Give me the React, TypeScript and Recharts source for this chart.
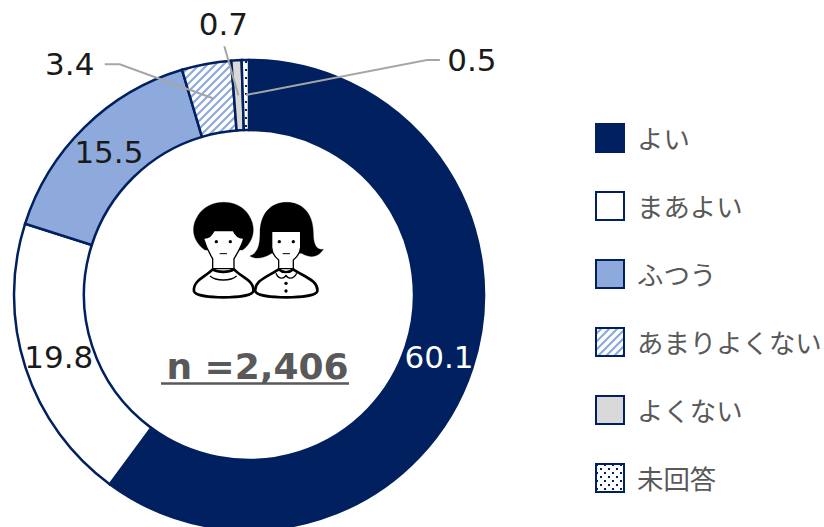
import { PieChart, Pie, Cell, Legend } from "recharts";

const categories = ["よい", "まあよい", "ふつう", "あまりよくない", "よくない", "未回答"];
const values = [60.1, 19.8, 15.5, 3.4, 0.7, 0.5];
const fills = ["#002060", "#ffffff", "#8EA9DB", "url(#hatch)", "#D9D9D9", "url(#dots)"];
const sampleLabel = "n =2,406";

const data = categories.map((name, i) => ({ name, value: values[i], fill: fills[i] }));

const FONT = '"DejaVu Sans", "Noto Sans CJK JP", sans-serif';
const JP_FONT = '"Noto Sans CJK JP", "DejaVu Sans", sans-serif';
const NAVY = "#002060";
const CX = 249;
const CY = 295;
const OUTER = 235;
const INNER = 165;

// small slices get a leader line, points are offsets from the slice centre
const callouts: Record<string, { points: number[][]; text: number[] }> = {
  あまりよくない: { points: [[-93, -34], [-108, -34]], text: [-143, -34] },
  よくない: { points: [[-14, -49]], text: [-15, -71] },
  未回答: { points: [[181, -35], [194, -35]], text: [226, -35] },
};

function renderLabel(props: any) {
  const { midAngle, value, index, name } = props;
  const rad = (-midAngle * Math.PI) / 180;
  const r = (INNER + OUTER) / 2;
  const x = CX + r * Math.cos(rad);
  const y = CY + r * Math.sin(rad);
  const callout = callouts[name];
  if (callout) {
    const pts = [[x, y], ...callout.points.map(([dx, dy]) => [x + dx, y + dy])];
    return (
      <g key={index}>
        <polyline points={pts.map((p) => p.join(",")).join(" ")} fill="none" stroke="#A6A6A6" strokeWidth={2} />
        <text x={x + callout.text[0]} y={y + callout.text[1]} textAnchor="middle" dominantBaseline="central" fontSize={31} fontFamily={FONT} fill="#1a1a1a">
          {value.toFixed(1)}
        </text>
      </g>
    );
  }
  return (
    <text key={index} x={x} y={y} textAnchor="middle" dominantBaseline="central" fontSize={31} fontFamily={FONT} fill={index === 0 ? "#ffffff" : "#1a1a1a"}>
      {value.toFixed(1)}
    </text>
  );
}

function LegendList() {
  return (
    <div style={{ display: "flex", flexDirection: "column", gap: 38 }}>
      {data.map((d) => (
        <div key={d.name} style={{ display: "flex", alignItems: "center", height: 30 }}>
          <svg width={30} height={30} style={{ display: "block" }}>
            <rect x={1} y={1} width={28} height={28} fill={d.fill} stroke={NAVY} strokeWidth={2} />
          </svg>
          <span style={{ marginLeft: 12, fontFamily: JP_FONT, fontSize: 26.4, color: "#595959", whiteSpace: "nowrap", lineHeight: "30px" }}>
            {d.name}
          </span>
        </div>
      ))}
    </div>
  );
}

// the two people in the middle, drawn at 3x and scaled down
function People() {
  return (
    <g transform="translate(150,190) scale(0.3333)" stroke="#000" strokeLinejoin="round">
      <path d="M165,180 C128,155 120,112 145,75 C178,24 265,24 296,75 C320,112 312,155 278,180 Z" fill="#000" />
      <path d="M160,144 C176,146 186,135 192,122 L250,122 C256,135 266,146 282,144 C274,172 262,190 252,206 L252,236 L188,236 L188,206 C178,190 168,172 160,144 Z" fill="#fff" strokeWidth={4} />
      <path d="M132,304 C128,272 165,262 188,238 C205,248 235,248 252,238 C275,262 314,272 310,304 C302,328 140,328 132,304 Z" fill="#fff" strokeWidth={8} />
      <path d="M180,258 C198,274 242,274 260,258" fill="none" strokeWidth={4} />
      <circle cx={199} cy={155} r={5} fill="#000" strokeWidth={0} />
      <circle cx={241} cy={155} r={5} fill="#000" strokeWidth={0} />
      <path d="M209,191 L231,191" strokeWidth={3} />

      <path d="M300,198 C322,190 330,168 330,130 C330,68 365,37 410,37 C455,37 490,68 490,130 C490,160 498,182 520,178 C508,198 485,208 455,190 L365,190 C340,206 315,208 300,198 Z" fill="#000" />
      <path d="M365,124 L452,124 L452,172 C450,192 440,202 430,210 L430,236 L386,236 L386,210 C376,202 366,192 365,172 Z" fill="#fff" strokeWidth={4} />
      <path d="M316,304 C312,272 350,262 386,238 C400,250 416,250 430,238 C465,262 506,272 502,304 C494,328 324,328 316,304 Z" fill="#fff" strokeWidth={8} />
      <path d="M378,250 C385,268 402,268 408,256 C414,268 432,268 440,250" fill="#fff" strokeWidth={4} />
      <circle cx={388} cy={155} r={5} fill="#000" strokeWidth={0} />
      <circle cx={430} cy={155} r={5} fill="#000" strokeWidth={0} />
      <path d="M398,191 L420,191" strokeWidth={3} />
      <circle cx={408} cy={280} r={5} fill="#000" strokeWidth={0} />
      <circle cx={408} cy={303} r={5} fill="#000" strokeWidth={0} />
    </g>
  );
}

export default function App() {
  return (
    <div style={{ position: "absolute", left: 0, top: 0, width: 824, height: 527, overflow: "hidden", background: "#fff" }}>
      <PieChart width={824} height={527} margin={{ top: 0, right: 0, bottom: 0, left: 0 }}>
        <defs>
          <pattern id="hatch" patternUnits="userSpaceOnUse" width={8} height={8}>
            <rect width={8} height={8} fill="#fff" />
            <path d="M-2,2 L2,-2 M0,8 L8,0 M6,10 L10,6" stroke="#8EA9DB" strokeWidth={2.2} />
          </pattern>
          <pattern id="dots" patternUnits="userSpaceOnUse" width={8} height={8}>
            <rect width={8} height={8} fill="#fff" />
            <rect x={1} y={1} width={2} height={2} fill={NAVY} />
            <rect x={5} y={5} width={2} height={2} fill={NAVY} />
          </pattern>
        </defs>
        <Pie
          data={data}
          dataKey="value"
          nameKey="name"
          cx={CX}
          cy={CY}
          innerRadius={INNER}
          outerRadius={OUTER}
          startAngle={90}
          endAngle={-270}
          stroke={NAVY}
          strokeWidth={2.5}
          label={renderLabel}
          labelLine={false}
          isAnimationActive={false}
        >
          {data.map((d) => (
            <Cell key={d.name} fill={d.fill} />
          ))}
        </Pie>
        <Legend
          layout="vertical"
          align="right"
          verticalAlign="top"
          content={<LegendList />}
          wrapperStyle={{ left: 595, top: 123, width: 229, right: "auto" }}
        />
        <People />
        <text x={257.5} y={366} textAnchor="middle" dominantBaseline="central" fontSize={36} fontWeight={700} fontFamily={FONT} fill="#595959">
          {sampleLabel}
        </text>
        <line x1={161} x2={349} y1={383.5} y2={383.5} stroke="#595959" strokeWidth={2.5} />
      </PieChart>
    </div>
  );
}
